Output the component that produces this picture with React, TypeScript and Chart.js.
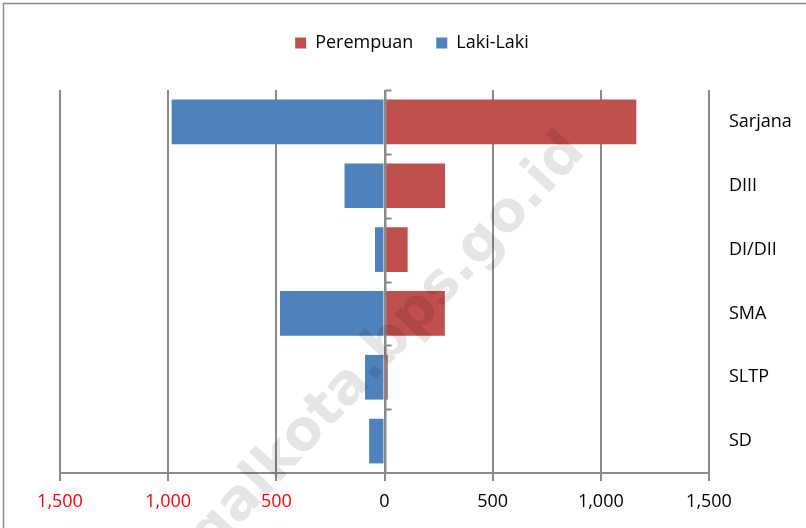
import React, { useEffect, useRef } from "react";
import { Chart, registerables } from "chart.js";

Chart.register(...registerables);

const categories = ["Sarjana", "DIII", "DI/DII", "SMA", "SLTP", "SD"];
const perempuan = [1164, 280, 107, 279, 15, 0];
const lakiLaki = [984, 185, 44, 483, 90, 71];
const xTicks = [-1500, -1000, -500, 0, 500, 1000, 1500];
const watermark = "tegalkota.bps.go.id";

const FONT = "'Open Sans', 'Liberation Sans', sans-serif";
const GRID = "#8a8a8a";

const overlayPlugin = {
  id: "overlay",
  beforeDraw(chart: any) {
    const ctx = chart.ctx;
    ctx.save();
    ctx.strokeStyle = "#8c8c8c";
    ctx.lineWidth = 1.5;
    ctx.strokeRect(3.5, 3.5, chart.width + 20, chart.height + 20);
    ctx.restore();
  },
  afterDatasetsDraw(chart: any) {
    const ctx = chart.ctx;
    const x = chart.scales.x;
    const y = chart.scales.y;
    const zx = Math.round(x.getPixelForValue(0)) + 0.5;
    ctx.save();
    ctx.strokeStyle = GRID;
    ctx.lineWidth = 2;
    ctx.beginPath();
    ctx.moveTo(zx, chart.chartArea.top);
    ctx.lineTo(zx, chart.chartArea.bottom);
    ctx.stroke();
    for (let i = 0; i < categories.length; i++) {
      const py = Math.round(y.getPixelForValue(i - 0.5)) + 0.5;
      ctx.beginPath();
      ctx.moveTo(zx, py);
      ctx.lineTo(zx + 6, py);
      ctx.stroke();
    }
    // watermark
    ctx.translate(366, 368);
    ctx.rotate((-47 * Math.PI) / 180);
    ctx.font = "bold 56px 'DejaVu Sans', sans-serif";
    ctx.fillStyle = "rgba(0,0,0,0.1)";
    ctx.textAlign = "center";
    ctx.textBaseline = "middle";
    ctx.fillText(watermark, 0, 0);
    ctx.restore();
  },
};

export default function App() {
  const ref = useRef<HTMLCanvasElement | null>(null);
  useEffect(() => {
    if (!ref.current) return;
    const chart = new Chart(ref.current, {
      type: "bar",
      data: {
        labels: categories,
        datasets: [
          {
            label: "Perempuan",
            data: perempuan,
            backgroundColor: "#C0504D",
            borderWidth: 0,
            barPercentage: 0.7,
            categoryPercentage: 1,
          },
          {
            label: "Laki-Laki",
            data: lakiLaki.map((v) => -v),
            backgroundColor: "#4F81BD",
            borderWidth: 0,
            barPercentage: 0.7,
            categoryPercentage: 1,
          },
        ],
      },
      options: {
        indexAxis: "y",
        animation: false,
        responsive: false,
        maintainAspectRatio: false,
        layout: { padding: { left: 18, right: 0, top: 11, bottom: 0 } },
        plugins: {
          tooltip: { enabled: false },
          legend: {
            position: "top",
            labels: {
              boxWidth: 11,
              boxHeight: 11,
              padding: 23,
              color: "#000",
              font: { family: FONT, size: 18 },
            },
          },
          subtitle: {
            display: true,
            text: "",
            weight: 500,
            position: "top",
            font: { size: 10, lineHeight: 1.2 },
            padding: { top: 0, bottom: 16 },
          } as any,
        },
        scales: {
          x: {
            type: "linear",
            stacked: true,
            min: -1500,
            max: 1500,
            afterBuildTicks: (s: any) => {
              s.ticks = xTicks.map((v) => ({ value: v }));
            },
            afterFit: (s: any) => {
              s.height = 55;
            },
            grid: { color: GRID, lineWidth: 2, tickLength: 8, drawTicks: true },
            border: { display: true, color: GRID, width: 2 },
            ticks: {
              padding: 10,
              font: { family: FONT, size: 18 },
              color: (c: any) => (c.tick && c.tick.value < 0 ? "#FF0000" : "#000"),
              callback: (v: any) => Math.abs(Number(v)).toLocaleString("en-US"),
            },
          },
          y: {
            type: "category",
            stacked: true,
            position: "right",
            afterFit: (s: any) => {
              s.width = 97;
            },
            grid: { display: false, drawTicks: false },
            border: { display: false },
            ticks: {
              padding: 20,
              color: "#000",
              font: { family: FONT, size: 18 },
            },
          },
          spacer: {
            type: "category",
            position: "left",
            afterFit: (s: any) => {
              s.width = 42;
            },
            grid: { display: false, drawTicks: false },
            border: { display: false },
            ticks: { display: false },
          },
        },
      },
      plugins: [overlayPlugin],
    });
    return () => chart.destroy();
  }, []);
  return (
    <div style={{ position: "fixed", left: 0, top: 0, width: 806, height: 528, background: "#fff" }}>
      <canvas ref={ref} width={806} height={528} style={{ width: 806, height: 528 }} />
    </div>
  );
}
